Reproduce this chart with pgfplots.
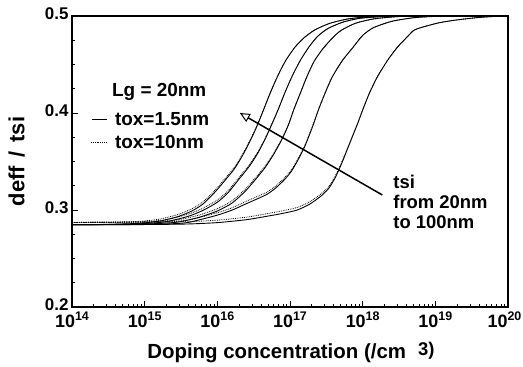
\documentclass[border=0pt]{standalone}
\usepackage{fontspec}
\setmainfont{Liberation Sans}
\usepackage{pgfplots}
\pgfplotsset{compat=1.18}
\usetikzlibrary{arrows.meta,calc}
\newcommand{\dec}[1]{10\raisebox{0.75ex}{\fontsize{12.5}{12.5}\selectfont #1}}
\begin{document}
\begin{tikzpicture}
\begin{axis}[
  scale only axis, width=436bp, height=291bp,
  xmin=14, xmax=20, ymin=0.2, ymax=0.5,
  xtick={14,15,16,17,18,19,20},
  xticklabels={\dec{14},\dec{15},\dec{16},\dec{17},\dec{18},\dec{19},\hspace*{-7bp}\dec{20}},
  minor xtick={14.301,14.477,14.602,14.699,14.778,14.845,14.903,14.954,
               15.301,15.477,15.602,15.699,15.778,15.845,15.903,15.954,
               16.301,16.477,16.602,16.699,16.778,16.845,16.903,16.954,
               17.301,17.477,17.602,17.699,17.778,17.845,17.903,17.954,
               18.301,18.477,18.602,18.699,18.778,18.845,18.903,18.954,
               19.301,19.477,19.602,19.699,19.778,19.845,19.903,19.954},
  ytick={0.2,0.3,0.4,0.5},
  yticklabels={0.2,0.3,0.4,0.5},
  minor ytick={0.225,0.25,0.275,0.325,0.35,0.375,0.425,0.45,0.475},
  xtick pos=bottom, ytick pos=left, tick align=inside,
  major tick length=6bp, minor tick length=3.5bp,
  axis line style={line width=1.3pt},
  every tick/.style={black, line width=0.8pt},
  xticklabel style={font=\bfseries\fontsize{18}{18}\selectfont, yshift=-1bp},
  yticklabel style={font=\bfseries\fontsize{17}{17}\selectfont, yshift=2bp},
  xlabel={Doping concentration (/cm\hspace{12bp}\raisebox{3bp}{\fontsize{18.5}{18.5}\selectfont 3)}},
  ylabel={deff\hspace{0.4em}/\hspace{0.4em}tsi},
  xlabel style={font=\bfseries\fontsize{20.5}{20.5}\selectfont, at={(axis description cs:0.502,-0.158)}, anchor=center},
  ylabel style={font=\bfseries\fontsize{22}{22}\selectfont, at={(axis description cs:-0.127,0.5)}, anchor=center},
  clip=true,
]
% tox = 1.5nm (solid)
\addplot[black, line width=0.9pt, smooth, tension=0.4] coordinates {
(14.0,0.2848)(14.5,0.2852)(14.9,0.2862)(15.2,0.2885)(15.45,0.2930)(15.65,0.2990)(15.8,0.3060)(15.95,0.3170)(16.1,0.3300)(16.24,0.3430)(16.36,0.3580)(16.47,0.3740)(16.56,0.3890)(16.64,0.4040)(16.73,0.4210)(16.83,0.4380)(16.94,0.4540)(17.07,0.4680)(17.2,0.4780)(17.35,0.4860)(17.55,0.4925)(17.8,0.4970)(18.1,0.4992)(18.5,0.5000)(20.0,0.5000)};
\addplot[black, line width=0.9pt, smooth, tension=0.4] coordinates {
(14.0,0.2848)(14.5,0.2851)(15.0,0.2860)(15.3,0.2880)(15.6,0.2935)(15.8,0.2995)(16.0,0.3080)(16.15,0.3180)(16.3,0.3320)(16.44,0.3450)(16.56,0.3590)(16.67,0.3750)(16.76,0.3900)(16.84,0.4040)(16.93,0.4210)(17.03,0.4380)(17.14,0.4540)(17.26,0.4680)(17.38,0.4790)(17.52,0.4870)(17.72,0.4935)(17.95,0.4975)(18.25,0.4993)(18.6,0.5)(20,0.5)};
\addplot[black, line width=0.9pt, smooth, tension=0.4] coordinates {
(14.0,0.2848)(14.6,0.2851)(15.1,0.2858)(15.45,0.2875)(15.75,0.2925)(16.0,0.2990)(16.2,0.3070)(16.38,0.3190)(16.52,0.3310)(16.66,0.3440)(16.78,0.3580)(16.89,0.3730)(16.98,0.3880)(17.05,0.4030)(17.14,0.4200)(17.23,0.4370)(17.33,0.4530)(17.45,0.4660)(17.58,0.4770)(17.7,0.4850)(17.9,0.4925)(18.15,0.4970)(18.45,0.4992)(18.8,0.5)(20,0.5)};
\addplot[black, line width=0.9pt, smooth, tension=0.4] coordinates {
(14.0,0.2848)(14.8,0.2850)(15.3,0.2856)(15.6,0.2872)(15.99,0.2945)(16.2,0.2998)(16.36,0.3052)(16.52,0.3105)(16.68,0.3160)(16.8,0.3225)(16.92,0.3310)(17.02,0.3400)(17.12,0.3530)(17.2,0.3650)(17.27,0.3780)(17.33,0.3900)(17.39,0.4030)(17.48,0.4200)(17.58,0.4370)(17.72,0.4540)(17.86,0.4670)(18.0,0.4800)(18.15,0.4880)(18.4,0.4945)(18.7,0.4982)(19.0,0.4996)(19.3,0.5)(20,0.5)};
\addplot[black, line width=0.9pt, smooth, tension=0.4] coordinates {
(14.0,0.2848)(15.0,0.2850)(15.6,0.2856)(16.0,0.2870)(16.4,0.2900)(16.68,0.2935)(16.9,0.2965)(17.1,0.3000)(17.27,0.3060)(17.42,0.3140)(17.53,0.3220)(17.62,0.3330)(17.7,0.3460)(17.77,0.3590)(17.85,0.3740)(17.93,0.3890)(18.0,0.4030)(18.09,0.4200)(18.2,0.4370)(18.34,0.4540)(18.48,0.4680)(18.62,0.4790)(18.7,0.4850)(18.8,0.4880)(19.05,0.4930)(19.3,0.4960)(19.6,0.4985)(19.85,0.4997)(20,0.5)};
% tox = 10nm (dotted)
\addplot[black, line width=0.8pt, densely dotted, smooth, tension=0.4] coordinates {
(14.0,0.2872)(14.5,0.2874)(14.9,0.2882)(15.2,0.2905)(15.45,0.2952)(15.65,0.3012)(15.8,0.3082)(15.95,0.3190)(16.1,0.3318)(16.24,0.3446)(16.36,0.3592)(16.47,0.3750)(16.56,0.3896)(16.64,0.4044)(16.73,0.4212)(16.83,0.4381)(16.94,0.4540)(17.07,0.4680)(17.2,0.4780)(17.35,0.4860)(17.55,0.4925)(17.8,0.4970)(18.1,0.4992)(18.5,0.5000)(20.0,0.5000)};
\addplot[black, line width=0.8pt, densely dotted, smooth, tension=0.4] coordinates {
(14.0,0.2872)(14.5,0.2873)(15.0,0.2881)(15.3,0.2901)(15.6,0.2957)(15.8,0.3018)(16.0,0.3102)(16.15,0.3200)(16.3,0.3338)(16.44,0.3465)(16.56,0.3602)(16.67,0.3758)(16.76,0.3905)(16.84,0.4043)(16.93,0.4211)(17.03,0.4380)(17.14,0.4540)(17.26,0.4680)(17.38,0.4790)(17.52,0.4870)(17.72,0.4935)(17.95,0.4975)(18.25,0.4993)(18.6,0.5)(20,0.5)};
\addplot[black, line width=0.8pt, densely dotted, smooth, tension=0.4] coordinates {
(14.0,0.2872)(14.6,0.2873)(15.1,0.2880)(15.45,0.2897)(15.75,0.2948)(16.0,0.3014)(16.2,0.3093)(16.38,0.3211)(16.52,0.3328)(16.66,0.3455)(16.78,0.3591)(16.89,0.3737)(16.98,0.3885)(17.05,0.4033)(17.14,0.4201)(17.23,0.4370)(17.33,0.4530)(17.45,0.4660)(17.58,0.4770)(17.7,0.4850)(17.9,0.4925)(18.15,0.4970)(18.45,0.4992)(18.8,0.5)(20,0.5)};
\addplot[black, line width=0.8pt, densely dotted, smooth, tension=0.4] coordinates {
(14.0,0.2872)(14.8,0.2873)(15.3,0.2879)(15.6,0.2896)(15.99,0.2970)(16.2,0.3022)(16.36,0.3077)(16.52,0.3130)(16.68,0.3183)(16.8,0.3246)(16.92,0.3328)(17.02,0.3415)(17.12,0.3542)(17.2,0.3659)(17.27,0.3786)(17.33,0.3904)(17.39,0.4032)(17.48,0.4201)(17.58,0.4370)(17.72,0.4540)(17.86,0.4670)(18.0,0.4800)(18.15,0.4880)(18.4,0.4945)(18.7,0.4982)(19.0,0.4996)(19.3,0.5)(20,0.5)};
\addplot[black, line width=0.8pt, densely dotted, smooth, tension=0.4] coordinates {
(14.0,0.2872)(15.0,0.2874)(15.6,0.2880)(16.0,0.2895)(16.4,0.2926)(16.68,0.2962)(16.9,0.2992)(17.1,0.3026)(17.27,0.3084)(17.42,0.3162)(17.53,0.3240)(17.62,0.3346)(17.7,0.3472)(17.77,0.3598)(17.85,0.3745)(17.93,0.3893)(18.0,0.4031)(18.09,0.4200)(18.2,0.4370)(18.34,0.4540)(18.48,0.4680)(18.62,0.4790)(18.7,0.4850)(18.8,0.4880)(19.05,0.4930)(19.3,0.4960)(19.6,0.4985)(19.85,0.4997)(20,0.5)};
% annotations
\node[anchor=west, font=\bfseries\fontsize{19}{19}\selectfont, inner sep=0pt] at (axis cs:14.55,0.4216) {Lg = 20nm};
\draw[black, line width=0.9pt] (axis cs:14.275,0.3938) -- (axis cs:14.48,0.3938);
\node[anchor=west, font=\bfseries\fontsize{19}{19}\selectfont, inner sep=0pt] at (axis cs:14.59,0.3938) {tox=1.5nm};
\draw[black, line width=0.9pt, densely dotted] (axis cs:14.26,0.370) -- (axis cs:14.48,0.370);
\node[anchor=west, font=\bfseries\fontsize{19}{19}\selectfont, inner sep=0pt] at (axis cs:14.59,0.370) {tox=10nm};
\draw[black, line width=1.5pt, -{Triangle[open, length=10bp, width=9bp, line width=1pt]}] (axis cs:18.27,0.3155) -- (axis cs:16.31,0.400);
\node[anchor=west, font=\bfseries\fontsize{18.5}{18.5}\selectfont, inner sep=0pt] at (axis cs:18.42,0.3289) {tsi};
\node[anchor=west, font=\bfseries\fontsize{18.5}{18.5}\selectfont, inner sep=0pt] at (axis cs:18.42,0.3082) {from 20nm};
\node[anchor=west, font=\bfseries\fontsize{18.5}{18.5}\selectfont, inner sep=0pt] at (axis cs:18.42,0.2876) {to 100nm};
\end{axis}
\pgfresetboundingbox
\path ($(current axis.south west)+(-72bp,-60bp)$) rectangle ($(current axis.north east)+(15bp,16bp)$);
\end{tikzpicture}
\end{document}
